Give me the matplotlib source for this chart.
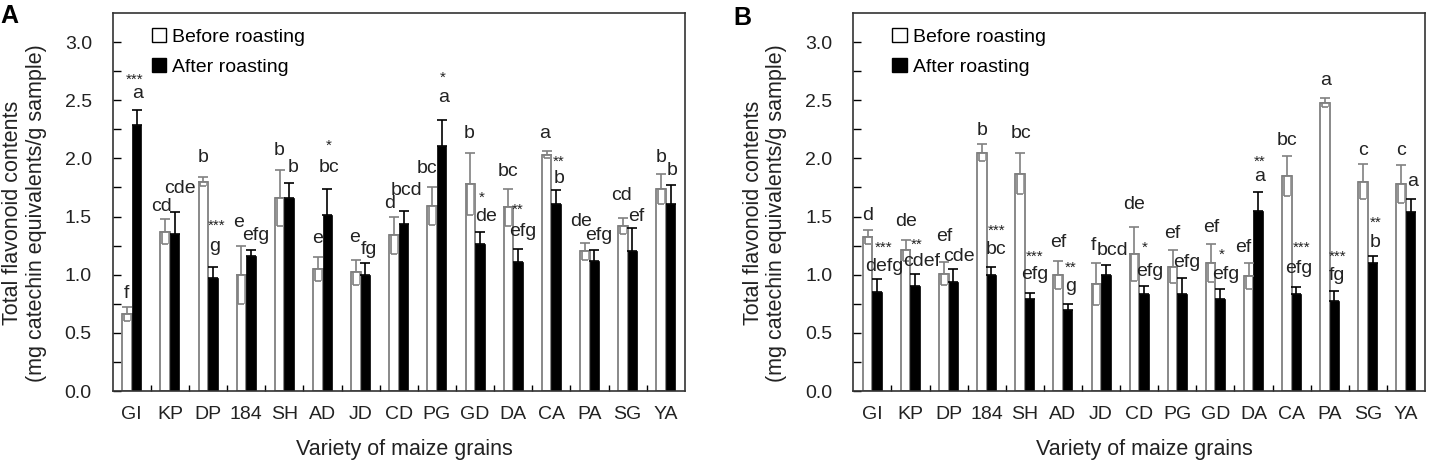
import numpy as np
import matplotlib
matplotlib.use("Agg")
import matplotlib.pyplot as plt
from matplotlib.patches import Patch

plt.rcParams['font.family'] = ['Liberation Sans', 'DejaVu Sans']

varieties = ["GI", "KP", "DP", "184", "SH", "AD", "JD", "CD", "PG", "GD", "DA", "CA", "PA", "SG", "YA"]

# panel A
a_before = [0.66, 1.37, 1.80, 1.00, 1.66, 1.05, 1.02, 1.34, 1.59, 1.78, 1.58, 2.03, 1.20, 1.42, 1.74]
a_before_err = [0.06, 0.11, 0.04, 0.25, 0.24, 0.10, 0.11, 0.16, 0.16, 0.27, 0.16, 0.03, 0.07, 0.07, 0.13]
a_after = [2.29, 1.35, 0.97, 1.16, 1.66, 1.51, 1.00, 1.44, 2.11, 1.26, 1.11, 1.61, 1.12, 1.20, 1.61]
a_after_err = [0.13, 0.19, 0.10, 0.05, 0.13, 0.23, 0.10, 0.11, 0.22, 0.11, 0.11, 0.12, 0.09, 0.20, 0.16]

# panel B
b_before = [1.32, 1.21, 1.01, 2.05, 1.87, 1.00, 0.92, 1.18, 1.07, 1.10, 0.99, 1.85, 2.48, 1.80, 1.78]
b_before_err = [0.06, 0.09, 0.10, 0.07, 0.18, 0.12, 0.18, 0.23, 0.14, 0.16, 0.11, 0.17, 0.04, 0.15, 0.16]
b_after = [0.85, 0.90, 0.94, 1.00, 0.79, 0.70, 1.00, 0.83, 0.83, 0.79, 1.55, 0.83, 0.77, 1.10, 1.54]
b_after_err = [0.11, 0.11, 0.11, 0.07, 0.05, 0.05, 0.08, 0.07, 0.14, 0.09, 0.16, 0.06, 0.09, 0.06, 0.11]

# annotation letters (text, x, y)
a_letters = [("f", -0.15, 0.84), ("a", 0.15, 2.56), ("cd", 0.77, 1.59), ("cde", 1.25, 1.74),
             ("b", 1.86, 2.01), ("g", 2.18, 1.24), ("e", 2.79, 1.45), ("efg", 3.26, 1.34),
             ("b", 3.87, 2.07), ("b", 4.23, 1.92), ("e", 4.87, 1.31), ("bc", 5.18, 1.92),
             ("e", 5.83, 1.32), ("fg", 6.21, 1.22), ("d", 6.75, 1.61), ("bcd", 7.21, 1.72),
             ("bc", 7.73, 1.91), ("a", 8.17, 2.52), ("b", 8.85, 2.21), ("de", 9.28, 1.50),
             ("bc", 9.85, 1.89), ("efg", 10.26, 1.37), ("a", 10.83, 2.21), ("b", 11.20, 1.83),
             ("de", 11.79, 1.46), ("efg", 12.23, 1.34), ("cd", 12.84, 1.68), ("ef", 13.22, 1.50),
             ("b", 13.87, 2.01), ("b", 14.17, 1.90)]
a_stars = [("***", 0.08, 2.68), ("***", 2.22, 1.42), ("*", 5.15, 2.11), ("*", 8.14, 2.69),
           ("*", 9.17, 1.66), ("**", 10.12, 1.56), ("**", 11.18, 1.97)]

b_letters = [("d", -0.12, 1.51), ("defg", 0.31, 1.07), ("de", 0.88, 1.46), ("cdef", 1.29, 1.11),
             ("ef", 1.88, 1.33), ("cde", 2.28, 1.16), ("b", 2.87, 2.24), ("bc", 3.24, 1.22),
             ("bc", 3.89, 2.21), ("efg", 4.26, 1.00), ("ef", 4.89, 1.28), ("g", 5.20, 0.90),
             ("f", 5.81, 1.255), ("bcd", 6.31, 1.21), ("de", 6.87, 1.60), ("efg", 7.28, 1.03),
             ("ef", 7.88, 1.35), ("efg", 8.26, 1.105), ("ef", 8.88, 1.41), ("efg", 9.27, 1.00),
             ("ef", 9.73, 1.23), ("a", 10.17, 1.84), ("bc", 10.87, 2.15), ("efg", 11.19, 1.05),
             ("a", 11.89, 2.67), ("fg", 12.18, 0.99), ("c", 12.87, 2.07), ("b", 13.18, 1.28),
             ("c", 13.86, 2.07), ("a", 14.17, 1.80)]
b_stars = [("***", 0.29, 1.23), ("**", 1.16, 1.26), ("***", 3.26, 1.375), ("***", 4.26, 1.155),
           ("**", 5.20, 1.06), ("*", 7.15, 1.23), ("*", 9.16, 1.175), ("**", 10.17, 1.97),
           ("***", 11.26, 1.23), ("***", 12.22, 1.15), ("**", 13.20, 1.45)]

fig = plt.figure(figsize=(14.32, 4.69), dpi=100)
ax_a = fig.add_axes([0.0787, 0.1663, 0.3996, 0.806])
ax_b = fig.add_axes([0.5959, 0.1663, 0.3992, 0.806])

gray = "#808080"
txt = "#222222"
w = 0.25


def draw(ax, before, before_err, after, after_err, letters, stars):
    x = np.arange(len(varieties))
    n = len(varieties)
    ax.bar(x - w / 2, before, w, color="white", edgecolor=gray, linewidth=1.3, zorder=2)
    # upper error part, single gray line
    ax.errorbar(x - w / 2, before, yerr=[np.zeros(n), before_err], fmt="none", ecolor=gray,
                elinewidth=1.2, capsize=3.5, capthick=1.2, zorder=3)
    # lower error part drawn hollow, as in the original
    ax.errorbar(x - w / 2, before, yerr=[before_err, np.zeros(n)], fmt="none", ecolor=gray,
                elinewidth=5.5, capsize=0, zorder=3)
    ax.errorbar(x - w / 2, before, yerr=[before_err, np.zeros(n)], fmt="none", ecolor="white",
                elinewidth=3.8, capsize=0, zorder=3)
    ax.errorbar(x - w / 2, before, yerr=[before_err, np.zeros(n)], fmt="none", ecolor=gray,
                elinewidth=0, capsize=2.2, capthick=1.2, zorder=3)
    ax.bar(x + w / 2, after, w, color="black", edgecolor="black", linewidth=0.5, zorder=2)
    ax.errorbar(x + w / 2, after, yerr=[np.zeros(n), after_err], fmt="none",
                ecolor="black", elinewidth=1.2, capsize=3.5, capthick=1.2, zorder=3)
    for t, tx, ty in letters:
        ax.text(tx, ty, t, ha="center", va="center", fontsize=14, color=txt, zorder=4)
    for t, tx, ty in stars:
        ax.text(tx, ty, t, ha="center", va="center", fontsize=11, color=txt, zorder=4)

    ax.set_xlim(-0.5, 14.5)
    ax.set_ylim(0, 3.25)
    ax.set_xticks(x)
    ax.set_xticklabels(varieties)
    ax.set_xticks(x[:-1] + 0.5, minor=True)
    ax.tick_params(axis="x", which="major", length=0, pad=11, labelsize=14, labelcolor=txt)
    ax.tick_params(axis="x", which="minor", direction="in", length=4, width=1)
    ax.set_yticks(np.arange(0, 3.01, 0.5))
    ax.set_yticklabels([f"{v:.1f}" for v in np.arange(0, 3.01, 0.5)])
    ax.set_yticks(np.arange(0.25, 3.0, 0.5), minor=True)
    ax.tick_params(axis="y", which="both", direction="in", length=6, width=1, labelsize=14,
                   pad=15, labelcolor=txt)
    for s in ax.spines.values():
        s.set_linewidth(1.2)
        s.set_color("#333333")
    ax.set_ylabel("Total flavonoid contents\n(mg catechin equivalents/g sample)",
                  fontsize=15.5, linespacing=1.15, color=txt, va="center")
    ax.yaxis.set_label_coords(-0.154, 0.47)
    ax.set_xlabel("Variety of maize grains", fontsize=15.5, color=txt, va="center")
    ax.xaxis.set_label_coords(0.509, -0.156)

    handles = [Patch(facecolor="white", edgecolor="black", linewidth=1.0),
               Patch(facecolor="black", edgecolor="black")]
    ax.legend(handles, ["Before roasting", "After roasting"], loc="upper left",
              bbox_to_anchor=(0.068, 0.96), frameon=False, fontsize=14,
              handlelength=0.75, handleheight=0.75, handletextpad=0.3,
              labelspacing=0.6, borderpad=0, borderaxespad=0)


draw(ax_a, a_before, a_before_err, a_after, a_after_err, a_letters, a_stars)
draw(ax_b, b_before, b_before_err, b_after, b_after_err, b_letters, b_stars)

fig.text(0.0, 0.965, "A", fontsize=18, fontweight="bold", va="center")
fig.text(0.512, 0.962, "B", fontsize=18, fontweight="bold", va="center")

fig.savefig("out.png", dpi=100)
